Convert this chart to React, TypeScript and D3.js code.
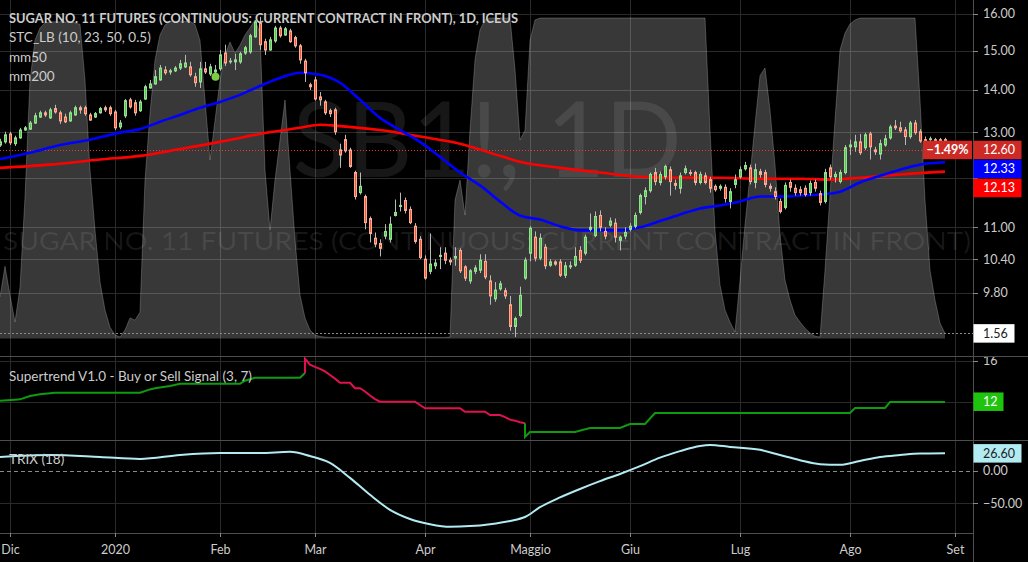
import * as d3 from "d3"

const W = 1028
const H = 562
const AXIS_X = 973
const FONT = "Lato, 'Open Sans', sans-serif"

// trading-day index of the first bar (0 = 2 Dec 2019)
const FIRST_BAR = -2

// daily OHLC, SB1! (ICE), rows of 10 bars
const opens = [
  12.71, 12.78, 12.96, 12.74, 12.87, 13.05, 13.07, 13.21, 13.35, 13.45,
  13.33, 13.55, 13.45, 13.35, 13.26, 13.40, 13.57, 13.57, 13.40, 13.35,
  13.45, 13.57, 13.57, 13.47, 13.12, 13.38, 13.76, 13.69, 13.50, 13.78,
  14.05, 14.15, 14.25, 14.50, 14.45, 14.48, 14.55, 14.58, 14.58, 14.33,
  14.20, 14.53, 14.40, 14.45, 14.53, 14.94, 14.71, 14.71, 14.71, 14.94,
  14.97, 15.37, 15.75, 15.24, 15.02, 15.26, 15.61, 15.42, 15.53, 15.35,
  15.13, 14.73, 14.13, 14.25, 13.83, 13.71, 13.50, 13.52, 12.60, 12.83,
  12.60, 12.11, 11.69, 11.61, 11.17, 10.79, 10.69, 10.83, 10.77, 11.23,
  11.41, 11.53, 11.35, 11.02, 10.77, 10.40, 10.18, 10.28, 10.45, 10.51,
  10.38, 10.42, 10.56, 10.26, 10.01, 10.18, 10.20, 10.36, 10.01, 9.70,
  9.87, 9.84, 9.60, 9.24, 9.42, 10.06, 10.51, 10.81, 10.42, 10.62,
  10.29, 10.35, 10.35, 10.11, 10.26, 10.29, 10.56, 10.51, 10.96, 10.84,
  11.23, 10.92, 11.04, 11.08, 10.75, 10.83, 10.96, 11.02, 11.29, 11.61,
  11.73, 12.11, 11.90, 12.02, 12.17, 11.88, 11.78, 12.11, 12.11, 12.11,
  11.90, 12.04, 11.96, 11.82, 11.78, 11.80, 11.51, 11.86, 12.02, 12.19,
  12.21, 11.90, 12.13, 12.11, 11.82, 11.71, 11.51, 11.39, 11.90, 11.78,
  11.75, 11.78, 11.69, 11.90, 11.67, 11.51, 12.21, 12.02, 11.92, 12.11,
  12.67, 12.67, 12.78, 12.65, 12.96, 12.60, 12.51, 12.71, 12.87, 13.14,
  13.10, 13.05, 12.90, 13.21, 13.01, 12.83, 12.83, 12.83, 12.83, 12.83,
]
const highs = [
  12.85, 13.01, 13.01, 12.92, 13.10, 13.14, 13.26, 13.45, 13.50, 13.50,
  13.57, 13.64, 13.50, 13.43, 13.50, 13.62, 13.62, 13.62, 13.45, 13.47,
  13.59, 13.62, 13.62, 13.52, 13.28, 13.78, 13.81, 13.76, 13.76, 14.13,
  14.25, 14.50, 14.63, 14.60, 14.53, 14.60, 14.76, 14.89, 14.71, 14.43,
  14.71, 14.71, 14.66, 14.63, 15.02, 15.16, 14.81, 14.92, 14.97, 15.13,
  15.45, 15.83, 15.92, 15.32, 15.37, 15.67, 15.67, 15.64, 15.59, 15.40,
  15.18, 14.79, 14.18, 14.33, 13.95, 13.76, 13.55, 13.57, 12.74, 12.94,
  12.65, 12.15, 12.11, 11.65, 11.21, 10.90, 10.77, 11.06, 11.21, 11.55,
  11.69, 11.59, 11.41, 11.08, 10.83, 10.47, 10.88, 10.40, 10.62, 10.62,
  10.43, 10.62, 10.60, 10.29, 10.22, 10.29, 10.49, 10.49, 10.11, 9.99,
  10.01, 9.89, 9.75, 9.40, 9.91, 10.43, 11.02, 10.92, 10.88, 10.68,
  10.40, 10.38, 10.40, 10.35, 10.36, 10.62, 10.64, 10.86, 11.27, 11.31,
  11.33, 11.00, 11.19, 11.17, 10.84, 11.00, 11.08, 11.29, 11.67, 11.80,
  12.11, 12.21, 12.13, 12.28, 12.24, 11.96, 12.11, 12.26, 12.17, 12.15,
  12.13, 12.11, 12.02, 11.86, 11.86, 11.86, 11.78, 12.07, 12.24, 12.34,
  12.28, 12.30, 12.19, 12.17, 11.88, 11.80, 11.57, 11.90, 11.96, 11.86,
  11.82, 11.84, 11.94, 11.96, 11.73, 12.19, 12.28, 12.13, 12.17, 12.71,
  12.83, 12.94, 12.96, 12.99, 13.01, 12.67, 12.83, 12.94, 13.17, 13.28,
  13.24, 13.12, 13.26, 13.28, 13.07, 12.90, 12.90, 12.87, 12.87, 12.87,
]
const lows = [
  12.67, 12.74, 12.71, 12.69, 12.85, 13.03, 13.05, 13.19, 13.33, 13.35,
  13.31, 13.43, 13.19, 13.21, 13.24, 13.38, 13.43, 13.38, 13.26, 13.33,
  13.43, 13.47, 13.38, 13.05, 13.07, 13.33, 13.55, 13.38, 13.47, 13.76,
  14.03, 14.13, 14.23, 14.38, 14.38, 14.45, 14.50, 14.55, 14.33, 14.08,
  14.05, 14.40, 14.35, 14.40, 14.48, 14.60, 14.66, 14.50, 14.66, 14.89,
  14.92, 15.35, 15.02, 14.89, 15.00, 15.21, 15.35, 15.40, 15.21, 15.08,
  14.66, 14.20, 14.00, 13.74, 13.62, 13.40, 13.35, 12.94, 12.21, 12.54,
  12.21, 11.55, 11.65, 10.96, 10.71, 10.62, 10.45, 10.77, 10.71, 11.21,
  11.31, 11.27, 11.06, 10.69, 10.40, 10.03, 10.13, 10.22, 10.22, 10.31,
  10.29, 10.28, 10.15, 10.01, 9.96, 10.13, 10.15, 10.04, 9.60, 9.65,
  9.84, 9.70, 9.17, 9.07, 9.39, 10.03, 10.36, 10.36, 10.38, 10.22,
  10.26, 10.28, 10.08, 10.06, 10.22, 10.26, 10.33, 10.47, 10.92, 10.81,
  10.92, 10.77, 11.00, 10.71, 10.56, 10.77, 10.92, 10.98, 11.25, 11.45,
  11.69, 11.84, 11.84, 11.96, 11.63, 11.75, 11.67, 12.07, 12.04, 11.84,
  11.86, 11.86, 11.69, 11.71, 11.73, 11.49, 11.37, 11.78, 11.98, 12.15,
  11.86, 11.78, 12.00, 11.80, 11.71, 11.55, 11.27, 11.35, 11.71, 11.63,
  11.63, 11.61, 11.63, 11.71, 11.43, 11.47, 11.96, 11.90, 11.88, 12.07,
  12.49, 12.56, 12.49, 12.60, 12.39, 12.49, 12.39, 12.67, 12.83, 13.05,
  12.99, 12.71, 12.85, 12.94, 12.76, 12.76, 12.78, 12.78, 12.78, 12.76,
]
const closes = [
  12.78, 12.94, 12.76, 12.87, 13.05, 13.10, 13.21, 13.38, 13.45, 13.40,
  13.52, 13.47, 13.26, 13.24, 13.45, 13.57, 13.52, 13.43, 13.28, 13.43,
  13.55, 13.52, 13.43, 13.10, 13.21, 13.74, 13.59, 13.45, 13.71, 14.08,
  14.15, 14.33, 14.55, 14.43, 14.48, 14.55, 14.66, 14.68, 14.38, 14.18,
  14.53, 14.45, 14.58, 14.50, 14.89, 14.68, 14.73, 14.76, 14.92, 15.08,
  15.40, 15.78, 15.16, 15.02, 15.29, 15.61, 15.40, 15.59, 15.24, 15.13,
  14.76, 14.43, 14.08, 13.78, 13.76, 13.45, 13.43, 13.01, 12.49, 12.58,
  12.24, 11.61, 11.82, 11.09, 10.88, 10.68, 10.60, 10.92, 11.06, 11.29,
  11.43, 11.33, 11.09, 10.73, 10.43, 10.06, 10.31, 10.33, 10.47, 10.38,
  10.35, 10.45, 10.19, 10.06, 10.19, 10.24, 10.38, 10.08, 9.75, 9.85,
  9.96, 9.75, 9.24, 9.37, 9.76, 10.38, 10.98, 10.42, 10.79, 10.28,
  10.35, 10.31, 10.11, 10.28, 10.28, 10.45, 10.38, 10.81, 11.00, 11.21,
  11.00, 10.83, 11.12, 10.81, 10.81, 10.90, 11.02, 11.23, 11.63, 11.73,
  12.07, 11.92, 12.07, 12.24, 11.92, 11.84, 12.04, 12.19, 12.09, 11.90,
  12.07, 11.90, 11.78, 11.75, 11.82, 11.57, 11.71, 11.96, 12.17, 12.26,
  11.92, 12.17, 12.07, 11.86, 11.78, 11.61, 11.31, 11.84, 11.80, 11.69,
  11.69, 11.65, 11.88, 11.78, 11.49, 12.11, 12.02, 12.07, 12.11, 12.65,
  12.71, 12.78, 12.54, 12.94, 12.67, 12.56, 12.74, 12.85, 13.12, 13.10,
  13.03, 12.90, 13.21, 12.99, 12.80, 12.80, 12.85, 12.80, 12.80, 12.78,
]

// STC_LB (0..100), one value per bar
const stcValues = [
  12.9, 22.5, 13.5, 5.1, 16.0, 44.1, 80.6, 93.1, 96.9, 98.5,
  98.8, 98.8, 98.8, 98.8, 98.8, 98.5, 98.0, 80.6, 52.5, 33.8,
  17.6, 8.9, 3.5, 1.1, 0.4, 2.6, 6.4, 5.7, 8.2, 49.4,
  70.3, 86.9, 94.7, 97.8, 99.0, 99.0, 99.0, 99.0, 99.0, 98.0,
  93.0, 74.4, 55.7, 68.0, 80.6, 88.5, 92.5, 89.0, 91.5, 94.7,
  96.9, 99.4, 95.3, 52.5, 33.8, 49.4, 61.9, 74.4, 52.5, 30.7,
  13.5, 6.4, 2.6, 1.1, 0.6, 0.4, 0.3, 0.3, 0.3, 0.3,
  0.3, 0.3, 0.3, 0.3, 0.3, 0.3, 0.3, 0.3, 0.3, 0.3,
  0.3, 0.3, 0.3, 0.3, 0.3, 0.3, 0.3, 0.3, 0.3, 0.3,
  0.4, 43.2, 49.4, 38.5, 65.0, 87.0, 96.3, 99.4, 100, 100,
  100, 100, 100, 84.0, 61.9, 65.0, 93.0, 99.4, 100, 100,
  100, 100, 100, 100, 100, 100, 100, 100, 100, 100,
  100, 100, 100, 100, 100, 100, 100, 100, 100, 100,
  100, 100, 100, 100, 100, 100, 100, 100, 100, 100,
  100, 100, 65.0, 33.8, 16.7, 8.9, 5.1, 2.0, 18.2, 35.4,
  51.0, 66.7, 82.0, 84.4, 71.3, 54.1, 32.3, 18.2, 12.0, 7.3,
  5.1, 3.2, 1.7, 0.7, 0.4, 21.3, 44.8, 68.2, 90.0, 95.3,
  98.1, 99.4, 100, 100, 100, 100, 100, 100, 100, 100,
  100, 100, 100, 100, 74.4, 43.2, 21.3, 12.0, 4.8, 1.56,
]

// moving averages, read at bar indices
const ma50Idx = [-2, 4, 10, 16, 22, 26, 30, 34, 38, 42, 46, 50, 54, 58, 62, 66, 70, 74, 78, 82, 86, 90, 94, 98, 100, 102, 106, 110, 114, 118, 122, 126, 130, 134, 138, 142, 146, 150, 154, 158, 162, 166, 170, 174, 178, 182, 187]
const ma50Val = [12.40, 12.54, 12.71, 12.83, 12.99, 13.07, 13.24, 13.40, 13.57, 13.71, 13.88, 14.10, 14.30, 14.43, 14.38, 14.18, 13.76, 13.33, 13.05, 12.78, 12.45, 12.11, 11.84, 11.51, 11.35, 11.23, 11.15, 11.02, 10.94, 10.94, 10.94, 11.00, 11.12, 11.25, 11.37, 11.43, 11.51, 11.61, 11.61, 11.63, 11.65, 11.71, 11.90, 12.04, 12.17, 12.28, 12.33]
const ma200Idx = [-2, 8, 18, 26, 34, 42, 50, 58, 62, 66, 74, 82, 90, 98, 102, 110, 118, 126, 134, 142, 150, 158, 164, 170, 178, 187]
const ma200Val = [12.21, 12.28, 12.39, 12.47, 12.62, 12.78, 12.96, 13.10, 13.17, 13.14, 13.05, 12.90, 12.74, 12.47, 12.34, 12.21, 12.11, 12.02, 12.00, 12.00, 11.98, 11.98, 11.96, 12.00, 12.07, 12.13]

// Supertrend (3, 7): up trend, down trend, up trend
const stUpIdx = [-2, 1, 2, 4, 6, 9, 26, 28, 29, 32, 34, 46, 47, 49, 58, 59]
const stUpVal = [12.10, 12.20, 12.23, 12.55, 12.72, 12.88, 12.88, 13.20, 13.31, 13.53, 13.76, 13.76, 14.05, 14.34, 14.34, 14.80]
const stDownIdx = [59, 59, 60, 61, 62, 63, 64, 65, 66, 68, 69, 70, 71, 72, 73, 74, 81, 83, 90, 91, 95, 96, 98, 99, 100, 101, 102, 103]
const stDownVal = [14.80, 16.20, 15.62, 15.40, 15.20, 14.95, 14.60, 14.25, 13.85, 13.85, 13.31, 13.31, 13.00, 12.60, 12.25, 12.00, 12.00, 11.36, 11.36, 11.02, 11.02, 10.70, 10.70, 10.50, 10.25, 10.15, 10.00, 9.90]
const stUp2Idx = [103, 103, 104, 113, 116, 122, 124, 127, 129, 168, 169, 175, 176, 187]
const stUp2Val = [9.90, 8.56, 9.04, 9.04, 9.43, 9.43, 9.82, 9.82, 10.90, 10.90, 11.39, 11.39, 11.97, 11.97]

// TRIX (18)
const trixIdx = [-2, 8, 18, 26, 34, 42, 50, 56, 60, 64, 68, 72, 76, 80, 84, 88, 92, 96, 100, 103, 106, 110, 114, 118, 122, 126, 130, 134, 138, 140, 144, 150, 154, 158, 162, 166, 170, 174, 178, 182, 187]
const trixVal = [21, 24, 21, 18, 24, 27, 27, 29, 22.5, 12, -11, -37, -60, -74, -82, -86, -85, -82, -77, -71, -56, -41, -28, -16, -5, 7, 20, 30, 38, 39.5, 36.5, 32, 24, 16, 10, 9, 15, 21, 24, 26.4, 26.6]

const monthIdx = [0, 21, 42, 61, 83, 104, 124, 146, 168, 189]
const monthLabels = ["Dic", "2020", "Feb", "Mar", "Apr", "Maggio", "Giu", "Lug", "Ago", "Set"]

const priceTicks = [16, 15, 14, 13, 12, 11, 10.4, 9.8]
const stTicks = [16, 12]
const trixTicks = [0, -50]

const lastPrice = 12.6
const changePct = -1.49
const stcLast = 1.56
const stLast = 12
const trixLast = 26.6

const signalIdx = [41]
const signalPrice = [14.33]

const MAIN = { top: 0, bottom: 356 }
const ST = { top: 357, bottom: 440 }
const TRIX = { top: 441, bottom: 533 }

const GRID = "#2a2a2a"
const SEP = "#4e4e4e"
const TEXT = "#cccccc"
const f2 = d3.format(".2f")

const Box = ({ x, cy, w, bg, fg, text, anchor = "start", tx, bold = false }: any) => (
  <g>
    <rect x={x} y={cy - 9.25} width={w} height={18.5} fill={bg} />
    <text x={tx} y={cy} dy="0.35em" fill={fg} fontSize={12.5} fontWeight={bold ? "bold" : "normal"} textAnchor={anchor}>{text}</text>
  </g>
)

export default function App() {
  const x = d3.scaleLinear().domain([0, 189]).range([10, 955])
  const yPrice = d3.scaleLog().domain([16, 9.8]).range([14, 293])
  const yStc = d3.scaleLinear().domain([0, 100]).range([338.4, 18])
  const ySt = d3.scaleLinear().domain([12, 16]).range([401.7, 360.7])
  const yTrix = d3.scaleLinear().domain([0, -50]).range([470.7, 503.3])

  const bars = opens.map((o, k) => ({ i: FIRST_BAR + k, o, h: highs[k], l: lows[k], c: closes[k] }))

  const stcArea = d3.area<number>()
    .x((_, k) => x(FIRST_BAR + k))
    .y0(yStc(0))
    .y1(v => yStc(v))
  const stcLine = d3.line<number>()
    .x((_, k) => x(FIRST_BAR + k))
    .y(v => yStc(v))

  const seriesLine = (idx: number[], y: (v: number) => number, curve: d3.CurveFactory) =>
    d3.line<number>().x((_, k) => x(idx[k])).y(v => y(v)).curve(curve)

  const ma50Path = seriesLine(ma50Idx, yPrice, d3.curveMonotoneX)(ma50Val) || ""
  const ma200Path = seriesLine(ma200Idx, yPrice, d3.curveMonotoneX)(ma200Val) || ""
  const stUpPath = seriesLine(stUpIdx, ySt, d3.curveLinear)(stUpVal) || ""
  const stDownPath = seriesLine(stDownIdx, ySt, d3.curveLinear)(stDownVal) || ""
  const stUp2Path = seriesLine(stUp2Idx, ySt, d3.curveLinear)(stUp2Val) || ""
  const trixPath = seriesLine(trixIdx, yTrix, d3.curveMonotoneX)(trixVal) || ""

  // right-axis value labels pushed apart like the platform does
  const priceLabels = [
    { v: lastPrice, bg: "#cd2a26" },
    { v: ma50Val[ma50Val.length - 1], bg: "#0000ff" },
    { v: ma200Val[ma200Val.length - 1], bg: "#ff0000" },
  ]
  let prevBottom = -Infinity
  const placed = priceLabels.map(l => {
    let cy = yPrice(l.v)
    if (cy - 9.25 < prevBottom + 0.5) cy = prevBottom + 0.5 + 9.25
    prevBottom = cy + 9.25
    return { ...l, cy }
  })
  // tick labels hidden behind the value labels are not drawn
  const hidden = (y: number) => placed.some(p => Math.abs(p.cy - y) < 15)

  const vGrid = (top: number, bottom: number) =>
    monthIdx.map(i => (
      <line key={`vg${top}-${i}`} x1={x(i) + 0.5} x2={x(i) + 0.5} y1={top} y2={bottom} stroke={GRID} />
    ))

  return (
    <svg width={W} height={H} style={{ position: "absolute", left: 0, top: 0, display: "block" }} fontFamily={FONT}>
      <defs>
        <clipPath id="clip-main"><rect x={0} y={MAIN.top} width={AXIS_X} height={MAIN.bottom - MAIN.top} /></clipPath>
        <clipPath id="clip-st"><rect x={0} y={ST.top} width={W} height={ST.bottom - ST.top} /></clipPath>
        <clipPath id="clip-trix"><rect x={0} y={TRIX.top} width={W} height={TRIX.bottom - TRIX.top} /></clipPath>
      </defs>
      <rect width={W} height={H} fill="#000" />

      {/* grid */}
      {vGrid(MAIN.top, MAIN.bottom)}
      {vGrid(ST.top, ST.bottom)}
      {vGrid(TRIX.top, TRIX.bottom)}
      {priceTicks.map(t => (
        <line key={`hg${t}`} x1={0} x2={AXIS_X} y1={Math.round(yPrice(t)) + 0.5} y2={Math.round(yPrice(t)) + 0.5} stroke={GRID} />
      ))}
      {stTicks.map(t => (
        <line key={`sg${t}`} x1={0} x2={AXIS_X} y1={Math.round(ySt(t)) + 0.5} y2={Math.round(ySt(t)) + 0.5} stroke={GRID} />
      ))}
      <line x1={0} x2={AXIS_X} y1={Math.round(yTrix(-50)) + 0.5} y2={Math.round(yTrix(-50)) + 0.5} stroke={GRID} />

      {/* watermark */}
      <g fill="#ffffff" fillOpacity={0.09}>
        <text x={487} y={177} fontSize={104} textAnchor="middle" textLength={389} lengthAdjust="spacingAndGlyphs">SB1!, 1D</text>
        <text x={487} y={250} fontSize={25.5} textAnchor="middle" textLength={968} lengthAdjust="spacingAndGlyphs">
          SUGAR NO. 11 FUTURES (CONTINUOUS: CURRENT CONTRACT IN FRONT)
        </text>
      </g>

      {/* main pane */}
      <g clipPath="url(#clip-main)">
        <path d={stcArea(stcValues) || ""} fill="#ffffff" fillOpacity={0.22} />
        <path d={stcLine(stcValues) || ""} fill="none" stroke="#ffffff" strokeOpacity={0.22} />
        <line x1={0} x2={AXIS_X} y1={Math.round(yStc(stcLast)) + 0.5} y2={Math.round(yStc(stcLast)) + 0.5} stroke="#8a8a8a" strokeDasharray="2 2" />
        <line x1={0} x2={922} y1={Math.round(yPrice(lastPrice)) + 0.5} y2={Math.round(yPrice(lastPrice)) + 0.5} stroke="#e53935" strokeDasharray="1 2" />
        <path d={ma200Path} fill="none" stroke="#ff0000" strokeWidth={2.6} />
        <path d={ma50Path} fill="none" stroke="#0000ff" strokeWidth={2.6} />
        {bars.map(b => {
          const cx = x(b.i) + 0.5
          const up = b.c >= b.o
          const top = yPrice(Math.max(b.o, b.c))
          const bot = yPrice(Math.min(b.o, b.c))
          return (
            <g key={b.i}>
              <line x1={cx} x2={cx} y1={yPrice(b.h)} y2={yPrice(b.l)} stroke="#b8b8b8" />
              <rect x={cx - 1} y={top} width={2} height={Math.max(0.8, bot - top)}
                fill={up ? "#55c451" : "#ef5a3a"} stroke={up ? "#94e28f" : "#ffab91"} strokeWidth={1} />
            </g>
          )
        })}
        {signalIdx.map((i, k) => (
          <circle key={`sig${i}`} cx={x(i) + 0.5} cy={yPrice(signalPrice[k])} r={4} fill="#7ccd45" />
        ))}
      </g>

      {/* supertrend pane */}
      <g clipPath="url(#clip-st)">
        <path d={stUpPath} fill="none" stroke="#109a10" strokeWidth={2} />
        <path d={stDownPath} fill="none" stroke="#e0114f" strokeWidth={2} />
        <path d={stUp2Path} fill="none" stroke="#109a10" strokeWidth={2} />
      </g>

      {/* trix pane */}
      <g clipPath="url(#clip-trix)">
        <line x1={0} x2={AXIS_X} y1={Math.round(yTrix(0)) + 0.5} y2={Math.round(yTrix(0)) + 0.5} stroke="#8a8a8a" strokeDasharray="4 3" />
        <path d={trixPath} fill="none" stroke="#b2ebf2" strokeWidth={2} />
      </g>

      {/* separators and axes */}
      <line x1={0} x2={W} y1={MAIN.bottom + 0.5} y2={MAIN.bottom + 0.5} stroke={SEP} />
      <line x1={0} x2={W} y1={ST.bottom + 0.5} y2={ST.bottom + 0.5} stroke={SEP} />
      <line x1={0} x2={AXIS_X} y1={TRIX.bottom + 0.5} y2={TRIX.bottom + 0.5} stroke={SEP} />
      <line x1={AXIS_X + 0.5} x2={AXIS_X + 0.5} y1={0} y2={H} stroke={SEP} />

      {/* legends */}
      <g fill={TEXT} fontSize={13.5}>
        <text x={9} y={22.5} fontWeight="bold" fontSize={13} textLength={509} lengthAdjust="spacingAndGlyphs">
          SUGAR NO. 11 FUTURES (CONTINUOUS: CURRENT CONTRACT IN FRONT), 1D, ICEUS
        </text>
        <text x={9} y={42}>STC_LB (10, 23, 50, 0.5)</text>
        <text x={9} y={61.5}>mm50</text>
        <text x={9} y={80.5}>mm200</text>
        <text x={9} y={381}>Supertrend V1.0 - Buy or Sell Signal (3, 7)</text>
        <text x={9} y={464}>TRIX (18)</text>
      </g>

      {/* price axis */}
      <g fill={TEXT} fontSize={12.5}>
        {priceTicks.map(t => (
          <g key={`pt${t}`}>
            <line x1={AXIS_X} x2={AXIS_X + 5} y1={Math.round(yPrice(t)) + 0.5} y2={Math.round(yPrice(t)) + 0.5} stroke="#888" />
            {!hidden(yPrice(t)) && <text x={983} y={yPrice(t)} dy="0.35em">{f2(t)}</text>}
          </g>
        ))}
        <g clipPath="url(#clip-st)">
          {stTicks.filter(t => t !== stLast).map(t => (
            <g key={`st${t}`}>
              <line x1={AXIS_X} x2={AXIS_X + 5} y1={Math.round(ySt(t)) + 0.5} y2={Math.round(ySt(t)) + 0.5} stroke="#888" />
              <text x={983} y={ySt(t)} dy="0.35em">{t}</text>
            </g>
          ))}
        </g>
        {trixTicks.map(t => (
          <g key={`tt${t}`}>
            <line x1={AXIS_X} x2={AXIS_X + 5} y1={Math.round(yTrix(t)) + 0.5} y2={Math.round(yTrix(t)) + 0.5} stroke="#888" />
            <text x={983} y={yTrix(t)} dy="0.35em">{f2(t)}</text>
          </g>
        ))}
      </g>

      {/* value labels */}
      <Box x={923} cy={placed[0].cy} w={49} bg="#cd2a26" fg="#fff" text={`${d3.format(".2f")(changePct)}%`} anchor="middle" tx={947.5} bold />
      {placed.map(l => (
        <Box key={`pl${l.v}`} x={AXIS_X + 0.5} cy={l.cy} w={48} bg={l.bg} fg="#fff" text={f2(l.v)} tx={983} />
      ))}
      <Box x={AXIS_X + 0.5} cy={yStc(stcLast)} w={41} bg="#ffffff" fg="#222" text={f2(stcLast)} tx={983} />
      <Box x={AXIS_X + 0.5} cy={ySt(stLast)} w={30} bg="#1fc40f" fg="#fff" text={String(stLast)} tx={983} />
      <Box x={AXIS_X + 0.5} cy={yTrix(trixLast)} w={48} bg="#b2ebf2" fg="#222" text={f2(trixLast)} tx={983} />

      {/* time axis */}
      <g fill={TEXT} fontSize={12.5}>
        {monthIdx.map((i, k) => (
          <g key={`m${i}`}>
            <line x1={x(i) + 0.5} x2={x(i) + 0.5} y1={TRIX.bottom} y2={TRIX.bottom + 4} stroke="#888" />
            <text x={x(i) + 0.5} y={553.5} textAnchor="middle">{monthLabels[k]}</text>
          </g>
        ))}
      </g>
    </svg>
  )
}
